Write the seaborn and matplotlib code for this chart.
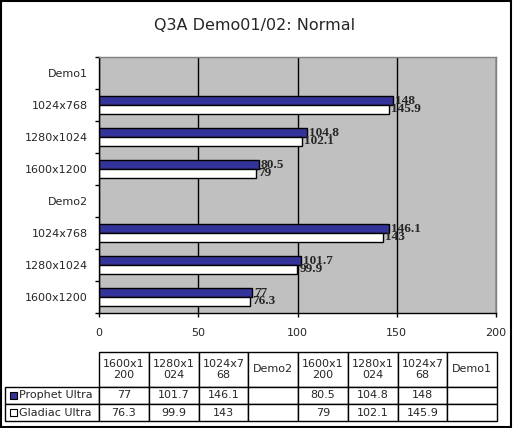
import numpy as np
import pandas as pd
import matplotlib
matplotlib.use("Agg")
import matplotlib.pyplot as plt
from matplotlib.patches import Rectangle
import seaborn as sns

# categories top to bottom as drawn on the chart
categories = ["Demo1", "1024x768", "1280x1024", "1600x1200",
              "Demo2", "1024x768", "1280x1024", "1600x1200"]
prophet = [np.nan, 148, 104.8, 80.5, np.nan, 146.1, 101.7, 77]
gladiac = [np.nan, 145.9, 102.1, 79, np.nan, 143, 99.9, 76.3]
series = ["Prophet Ultra", "Gladiac Ultra"]
colors = {"Prophet Ultra": "#333399", "Gladiac Ultra": "#FFFFFF"}
xticks = [0, 50, 100, 150, 200]

W, H = 513, 428
sns.set_style("white")
plt.rcParams["font.family"] = ["DejaVu Sans"]

keys = [f"{i}_{c}" for i, c in enumerate(categories)]
rows = []
for k, p, g in zip(keys, prophet, gladiac):
    rows.append({"key": k, "series": series[0], "value": p})
    rows.append({"key": k, "series": series[1], "value": g})
df = pd.DataFrame(rows).dropna()

fig = plt.figure(figsize=(W / 100, H / 100), dpi=100)
ax = fig.add_axes([99 / W, (H - 313) / H, 397 / W, 256 / H])
ax.set_facecolor("#C0C0C0")

sns.barplot(data=df, x="value", y="key", hue="series", order=keys,
            hue_order=series, palette=colors, orient="h", width=0.54,
            saturation=1, edgecolor="black", linewidth=1, errorbar=None,
            legend=False, ax=ax)

for cont in ax.containers:
    ax.bar_label(cont, fmt="%g", padding=1.5, fontsize=9.5,
                 fontweight="bold", family="Liberation Serif")

ax.set_xlim(0, 200)
ax.set_ylim(len(keys) - 0.5, -0.5)
ax.set_xlabel("")
ax.set_ylabel("")
ax.set_xticks(xticks)
ax.set_xticklabels([str(t) for t in xticks])
ax.set_yticks(range(len(keys)))
ax.set_yticklabels(categories)
ax.set_yticks(np.arange(-0.5, len(keys), 1), minor=True)
ax.tick_params(axis="y", which="major", length=0, pad=8, labelsize=8)
ax.tick_params(axis="y", which="minor", length=3, width=1, color="black",
               direction="out", left=True)
ax.tick_params(axis="x", which="major", length=3, width=1, color="black",
               direction="out", bottom=True, pad=7.5, labelsize=8)
ax.xaxis.grid(True, color="black", linewidth=1)
ax.yaxis.grid(False)
ax.set_axisbelow(True)
for side in ["left", "bottom"]:
    ax.spines[side].set_color("black")
    ax.spines[side].set_linewidth(1)
for side in ["top", "right"]:
    ax.spines[side].set_color("#808080")
    ax.spines[side].set_linewidth(1)

fig.text(255 / W, 1 - 25 / H, "Q3A Demo01/02: Normal", ha="center",
         va="center", fontsize=11.5)

# data table (columns run bottom to top of the chart)
def wrap(s):
    return s[:6] + "\n" + s[6:] if len(s) > 6 else s

col_labels = [wrap(c) for c in categories[::-1]]
fmt = lambda v: "" if np.isnan(v) else f"{v:g}"
cell_text = [[""] + col_labels,
             [series[0]] + [fmt(v) for v in prophet[::-1]],
             [series[1]] + [fmt(v) for v in gladiac[::-1]]]

t_left, t_right, t_top, t_bot = 5, 497, 352, 421
tab_ax = fig.add_axes([t_left / W, (H - t_bot) / H,
                       (t_right - t_left) / W, (t_bot - t_top) / H])
tab_ax.axis("off")
total_w = t_right - t_left
first_w = 99 - t_left
col_w = [first_w / total_w] + [(total_w - first_w) / 8 / total_w] * 8
table = tab_ax.table(cellText=cell_text, colWidths=col_w, bbox=[0, 0, 1, 1],
                     cellLoc="center")
table.auto_set_font_size(False)
table.set_fontsize(8)
total_h = t_bot - t_top
row_h = [35 / total_h, 17 / total_h, 17 / total_h]
for (r, c), cell in table.get_celld().items():
    cell.set_height(row_h[r])
    cell.set_linewidth(1)
    cell.set_edgecolor("black")
    cell.get_text().set_linespacing(1.1)
    if c == 0:
        if r == 0:
            cell.visible_edges = ""
        else:
            cell.get_text().set_ha("left")
            cell.PAD = 14 / first_w

# legend keys in the row label cells
for i, s in enumerate(series):
    yc = t_bot - 17 * (1 - i) - 8.5
    fig.patches.append(Rectangle(((t_left + 5) / W, (H - yc - 3.5) / H), 7 / W, 7 / H,
                                 transform=fig.transFigure, facecolor=colors[s],
                                 edgecolor="black", linewidth=0.8))

fig.patches.append(Rectangle((0.5 / W, 1 / H), 510.5 / W, 426.5 / H,
                             transform=fig.transFigure, fill=False,
                             edgecolor="black", linewidth=1.5))

fig.savefig("out.png", dpi=100)
